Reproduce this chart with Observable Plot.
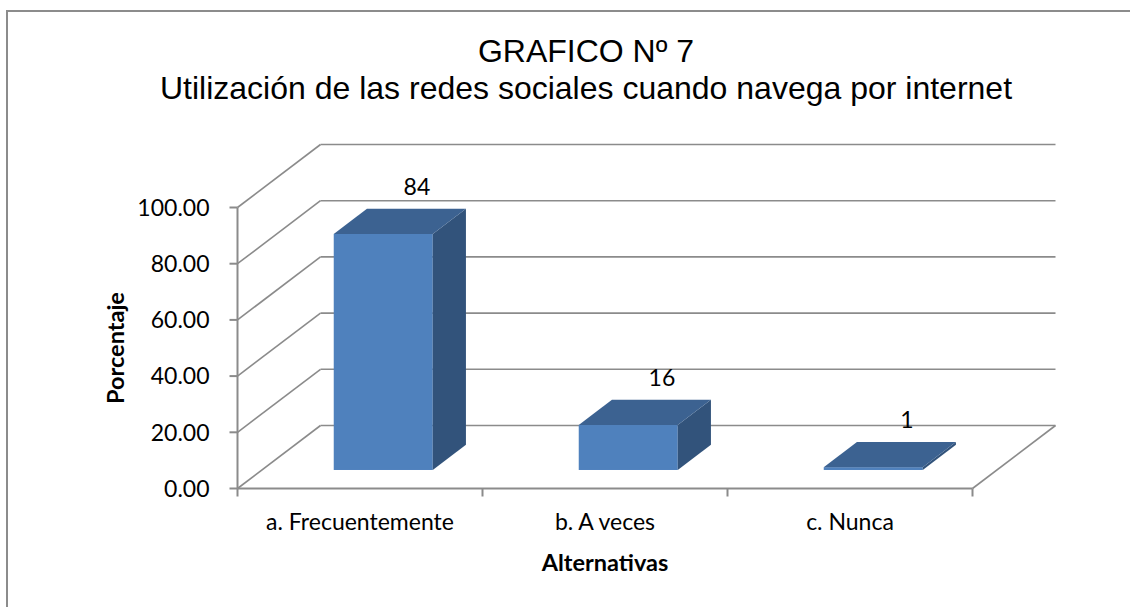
<!DOCTYPE html>
<html>
<head>
<meta charset="utf-8">
<script src="https://cdn.jsdelivr.net/npm/d3@7"></script>
<script src="https://cdn.jsdelivr.net/npm/@observablehq/plot@0.6"></script>
<style>
  html, body { margin: 0; padding: 0; background: #fff; overflow: hidden; }
  #page { position: relative; width: 1130px; height: 607px; overflow: hidden; }
  #frame { position: absolute; left: 6px; top: 10px; width: 1300px; height: 900px; border: 2px solid #8c8c8c; box-sizing: border-box; }
  .title { position: absolute; left: 0; width: 1172px; text-align: center; font-family: "Liberation Sans", Arial, sans-serif; font-size: 32px; line-height: 37px; color: #000; white-space: nowrap; }
  #chart { position: absolute; left: 0; top: 120px; }
</style>
</head>
<body>
<div id="page">
  <div id="frame"></div>
  <div class="title" style="top:33px">GRAFICO Nº 7</div>
  <div class="title" style="top:70px">Utilización de las redes sociales cuando navega por internet</div>
  <div id="chart"></div>
</div>
<script>
// ---- data ----
const categories = ["a. Frecuentemente", "b. A veces", "c. Nunca"];
const values = [84, 16, 1];
const valueLabels = ["84", "16", "1"];
const yTicks = [0, 20, 40, 60, 80, 100];
const yTickLabels = ["0.00", "20.00", "40.00", "60.00", "80.00", "100.00"];
const xTitle = "Alternativas";
const yTitle = "Porcentaje";

// ---- layout ----
const W = 1130, H = 487;
const mL = 237, mR = 158, mT = 87, mB = 119;
const pxPerCat = (W - mL - mR) / categories.length;   // 245
const pxPerVal = (H - mT - mB) / 100;                 // 2.81
const DX = 83 / pxPerCat;      // depth offset in category units
const DY = 63 / pxPerVal;      // depth offset in value units
const BAR_W = 99 / pxPerCat;
const F0 = 0.286, BD = 0.4;    // bar front position and depth (fraction of full depth)
const grid = "#8b8b8b";
const frontC = "#4f81bd", topC = "#3c6291", sideC = "#32537b";

const bars = categories.map((c, i) => {
  const xa = i + 0.5 - BAR_W / 2 + F0 * DX;
  const xb = xa + BAR_W;
  const yb = F0 * DY;
  return {c, i, v: values[i], label: valueLabels[i], xa, xb, yb, yt: values[i] + yb};
});
const topPts = bars.flatMap(b => [
  {bar: b.i, y: b.yt, x1: b.xa, x2: b.xb},
  {bar: b.i, y: b.yt + BD * DY, x1: b.xa + BD * DX, x2: b.xb + BD * DX}
]);
const sidePts = bars.flatMap(b => [
  {bar: b.i, x: b.xb, y1: b.yb, y2: b.yt},
  {bar: b.i, x: b.xb + BD * DX, y1: b.yb + BD * DY, y2: b.yt + BD * DY}
]);
const xTickPos = d3.range(categories.length + 1);

const chart = Plot.plot({
  width: W, height: H,
  marginLeft: mL, marginRight: mR, marginTop: mT, marginBottom: mB,
  x: {domain: [0, categories.length], axis: null},
  y: {domain: [0, 100], axis: null},
  style: {fontFamily: "Lato, sans-serif", fontSize: "23px", color: "#000", background: "transparent", overflow: "visible"},
  marks: [
    // back wall gridlines
    Plot.link(yTicks, {x1: () => DX, x2: () => categories.length + DX, y1: d => d + DY, y2: d => d + DY, stroke: grid, strokeWidth: 1.6}),
    // side wall diagonals
    Plot.link(yTicks, {x1: () => 0, x2: () => DX, y1: d => d, y2: d => d + DY, stroke: grid, strokeWidth: 1.6}),
    // floor right edge
    Plot.link([0], {x1: () => categories.length, x2: () => categories.length + DX, y1: () => 0, y2: () => DY, stroke: grid, strokeWidth: 1.6}),
    // floor front edge (x axis)
    Plot.link([0], {x1: () => 0, x2: () => categories.length, y1: () => 0, y2: () => 0, stroke: grid, strokeWidth: 2}),
    // y axis line
    Plot.link([0], {x1: () => 0, x2: () => 0, y1: () => 0, y2: () => 100, stroke: grid, strokeWidth: 2}),
    // y ticks
    Plot.link(yTicks, {x1: () => -8 / pxPerCat, x2: () => 0, y1: d => d, y2: d => d, stroke: grid, strokeWidth: 2}),
    // x ticks
    Plot.link(xTickPos, {x1: d => d, x2: d => d, y1: () => 0, y2: () => -8 / pxPerVal, stroke: grid, strokeWidth: 2}),
    // y tick labels
    Plot.text(yTicks, {x: () => 0, y: d => d, text: (d, i) => yTickLabels[i], textAnchor: "end", dx: -28, dy: 1, fill: "#000"}),
    // category labels
    Plot.text(categories, {x: (d, i) => i + 0.5, y: () => 0, text: d => d, dy: 34, fill: "#000"}),
    // bars: front, side, top
    Plot.rect(bars, {x1: "xa", x2: "xb", y1: "yb", y2: "yt", fill: frontC}),
    Plot.areaY(sidePts, {x: "x", y1: "y1", y2: "y2", z: "bar", fill: sideC}),
    Plot.areaX(topPts, {y: "y", x1: "x1", x2: "x2", z: "bar", fill: topC}),
    // value labels
    Plot.text(bars, {x: b => (b.xa + b.xb) / 2 + BD * DX, y: b => b.yt + BD * DY, text: "label", dy: -22, fill: "#000"}),
    // axis titles
    Plot.text([xTitle], {x: () => categories.length / 2, y: () => 0, text: d => d, dy: 75, fontWeight: "bold", fontSize: 23.5, fill: "#000"}),
    Plot.text([yTitle], {x: () => 0, y: () => 50, text: d => d, dx: -121, rotate: -90, fontWeight: "bold", fontSize: 23.5, fill: "#000"})
  ]
});
document.getElementById("chart").appendChild(chart);
</script>
</body>
</html>
